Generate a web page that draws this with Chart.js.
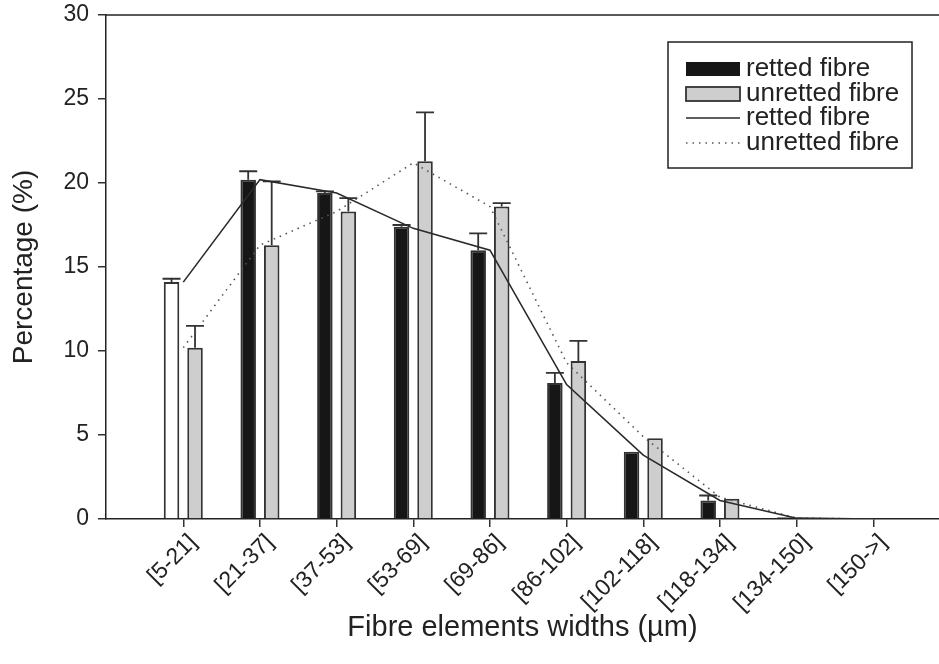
<!DOCTYPE html>
<html>
<head>
<meta charset="utf-8">
<title>Fibre elements widths</title>
<script src="https://cdn.jsdelivr.net/npm/chart.js@4.4.1/dist/chart.umd.min.js"></script>
<style>
  html, body { margin: 0; padding: 0; background: #fff; }
  #wrap { width: 939px; height: 664px; position: relative; }
</style>
</head>
<body>
<div id="wrap"><canvas id="fibreChart"></canvas></div>
<script>
// width classes (µm)
const widthClasses = ['[5-21]', '[21-37]', '[37-53]', '[53-69]', '[69-86]', '[86-102]', '[102-118]', '[118-134]', '[134-150]', '[150->]'];

// bar means and error bars (%)
const rettedMean = [14.1, 20.2, 19.4, 17.4, 16.0, 8.1, 4.0, 1.1, 0.1, 0];
const rettedErr = [0.2, 0.5, 0.1, 0.1, 1.0, 0.6, 0, 0.3, 0, 0];
const unrettedMean = [10.2, 16.3, 18.3, 21.3, 18.6, 9.4, 4.8, 1.2, 0, 0];
const unrettedErr = [1.3, 3.8, 0.8, 2.9, 0.2, 1.2, 0, 0, 0, 0];

// distribution curves
const rettedCurve = [14.1, 20.2, 19.4, 17.3, 16.0, 8.0, 3.8, 1.1, 0.05, 0];
const unrettedCurve = [10.2, 16.3, 18.3, 21.2, 18.6, 9.3, 4.9, 1.3, 0.05, 0];

const yTicks = [0, 5, 10, 15, 20, 25, 30];

const FONT = '"Liberation Sans", Arial, sans-serif';
const INK = '#222';

const toPoints = arr => arr.map((v, i) => ({ x: i, y: v }));

// error bars on top of each bar
const errorBars = {
  id: 'errorBars',
  afterDatasetDraw(chart, args) {
    const ds = chart.data.datasets[args.index];
    if (!ds.errors) return;
    const ctx = chart.ctx;
    const y = chart.scales.y;
    ctx.save();
    ctx.strokeStyle = '#333';
    ctx.lineWidth = 1.8;
    args.meta.data.forEach((bar, i) => {
      const err = ds.errors[i];
      if (!err) return;
      const top = y.getPixelForValue(ds.data[i].y + err);
      ctx.beginPath();
      ctx.moveTo(bar.x, bar.y);
      ctx.lineTo(bar.x, top);
      ctx.moveTo(bar.x - 9, top);
      ctx.lineTo(bar.x + 9, top);
      ctx.stroke();
    });
    ctx.restore();
  }
};

// top frame line and boxed legend
const frameAndLegend = {
  id: 'frameAndLegend',
  afterDraw(chart) {
    const ctx = chart.ctx;
    const a = chart.chartArea;
    ctx.save();
    ctx.strokeStyle = INK;
    ctx.lineWidth = 1.5;
    ctx.beginPath();
    ctx.moveTo(a.left, a.top);
    ctx.lineTo(a.right, a.top);
    ctx.stroke();

    // legend box
    const bx = 668, by = 42, bw = 244, bh = 126;
    ctx.fillStyle = '#fff';
    ctx.fillRect(bx, by, bw, bh);
    ctx.strokeRect(bx, by, bw, bh);

    const rows = [69, 94, 118, 143];
    const sx = 686, sw = 54, tx = 746;
    const ds = chart.data.datasets;
    ctx.font = '26px ' + FONT;
    ctx.textBaseline = 'middle';
    ctx.textAlign = 'left';

    // bar samples
    ctx.fillStyle = '#161616';
    ctx.fillRect(sx, rows[0] - 7, sw, 14);
    ctx.fillStyle = '#cecece';
    ctx.fillRect(sx, rows[1] - 7, sw, 14);
    ctx.strokeStyle = '#333';
    ctx.lineWidth = 1.8;
    ctx.strokeRect(sx, rows[1] - 7, sw, 14);

    // line samples
    ctx.lineWidth = 1.6;
    ctx.strokeStyle = ds[0].borderColor;
    ctx.beginPath();
    ctx.moveTo(sx, rows[2]);
    ctx.lineTo(sx + sw, rows[2]);
    ctx.stroke();
    ctx.strokeStyle = ds[1].borderColor;
    ctx.setLineDash(ds[1].borderDash);
    ctx.beginPath();
    ctx.moveTo(sx, rows[3]);
    ctx.lineTo(sx + sw, rows[3]);
    ctx.stroke();
    ctx.setLineDash([]);

    ctx.fillStyle = INK;
    ctx.fillText('retted fibre', tx, rows[0]);
    ctx.fillText('unretted fibre', tx, rows[1]);
    ctx.fillText('retted fibre', tx, rows[2]);
    ctx.fillText('unretted fibre', tx, rows[3]);
    ctx.restore();
  }
};

new Chart(document.getElementById('fibreChart'), {
  type: 'bar',
  data: {
    datasets: [
      {
        type: 'line',
        label: 'retted fibre',
        data: toPoints(rettedCurve),
        borderColor: '#2a2a2a',
        borderWidth: 1.6,
        pointRadius: 0,
        tension: 0,
        order: 0
      },
      {
        type: 'line',
        label: 'unretted fibre',
        data: toPoints(unrettedCurve),
        borderColor: '#555',
        borderWidth: 1.6,
        borderDash: [1.5, 5],
        pointRadius: 0,
        tension: 0,
        order: 0
      },
      {
        label: 'retted fibre',
        data: toPoints(rettedMean),
        errors: rettedErr,
        backgroundColor: rettedMean.map((v, i) => i === 0 ? '#ffffff' : '#161616'),
        borderColor: '#333',
        borderWidth: 2,
        categoryPercentage: 0.613,
        barPercentage: 0.66,
        order: 1
      },
      {
        label: 'unretted fibre',
        data: toPoints(unrettedMean),
        errors: unrettedErr,
        backgroundColor: '#cecece',
        borderColor: '#333',
        borderWidth: 2,
        categoryPercentage: 0.613,
        barPercentage: 0.66,
        order: 1
      }
    ]
  },
  options: {
    responsive: true,
    maintainAspectRatio: false,
    animation: false,
    layout: { padding: { top: 15, right: 0, bottom: 0, left: 0 } },
    plugins: {
      legend: { display: false },
      tooltip: { enabled: false }
    },
    scales: {
      x: {
        type: 'linear',
        offset: false,
        min: -1.008,
        max: 9.857,
        afterBuildTicks: s => { s.ticks = widthClasses.map((c, i) => ({ value: i })); },
        afterFit: s => { s.height = 145; },
        grid: { display: true, drawOnChartArea: false, offset: false, tickLength: 8, color: '#333', lineWidth: 1.5 },
        border: { color: INK, width: 1.5 },
        ticks: {
          autoSkip: false,
          maxRotation: 45,
          minRotation: 45,
          padding: 2,
          labelOffset: 10,
          color: INK,
          font: { family: FONT, size: 23 },
          callback: v => widthClasses[v]
        },
        title: {
          display: true,
          text: 'Fibre elements widths (µm)',
          color: INK,
          font: { family: FONT, size: 29 },
          padding: { top: 0, bottom: 19 }
        }
      },
      y: {
        min: 0,
        max: 30,
        afterBuildTicks: s => { s.ticks = yTicks.map(v => ({ value: v })); },
        afterFit: s => { s.width = 106; s.paddingTop = 0; s.paddingBottom = 0; },
        grid: { display: true, drawOnChartArea: false, tickLength: 8, color: '#333', lineWidth: 1.5 },
        border: { color: INK, width: 1.5 },
        ticks: {
          padding: 9,
          color: INK,
          font: { family: FONT, size: 23 }
        },
        title: {
          display: true,
          text: 'Percentage (%)',
          color: INK,
          font: { family: FONT, size: 28 },
          padding: { top: 7, bottom: 0 }
        }
      }
    }
  },
  plugins: [errorBars, frameAndLegend]
});
</script>
</body>
</html>
